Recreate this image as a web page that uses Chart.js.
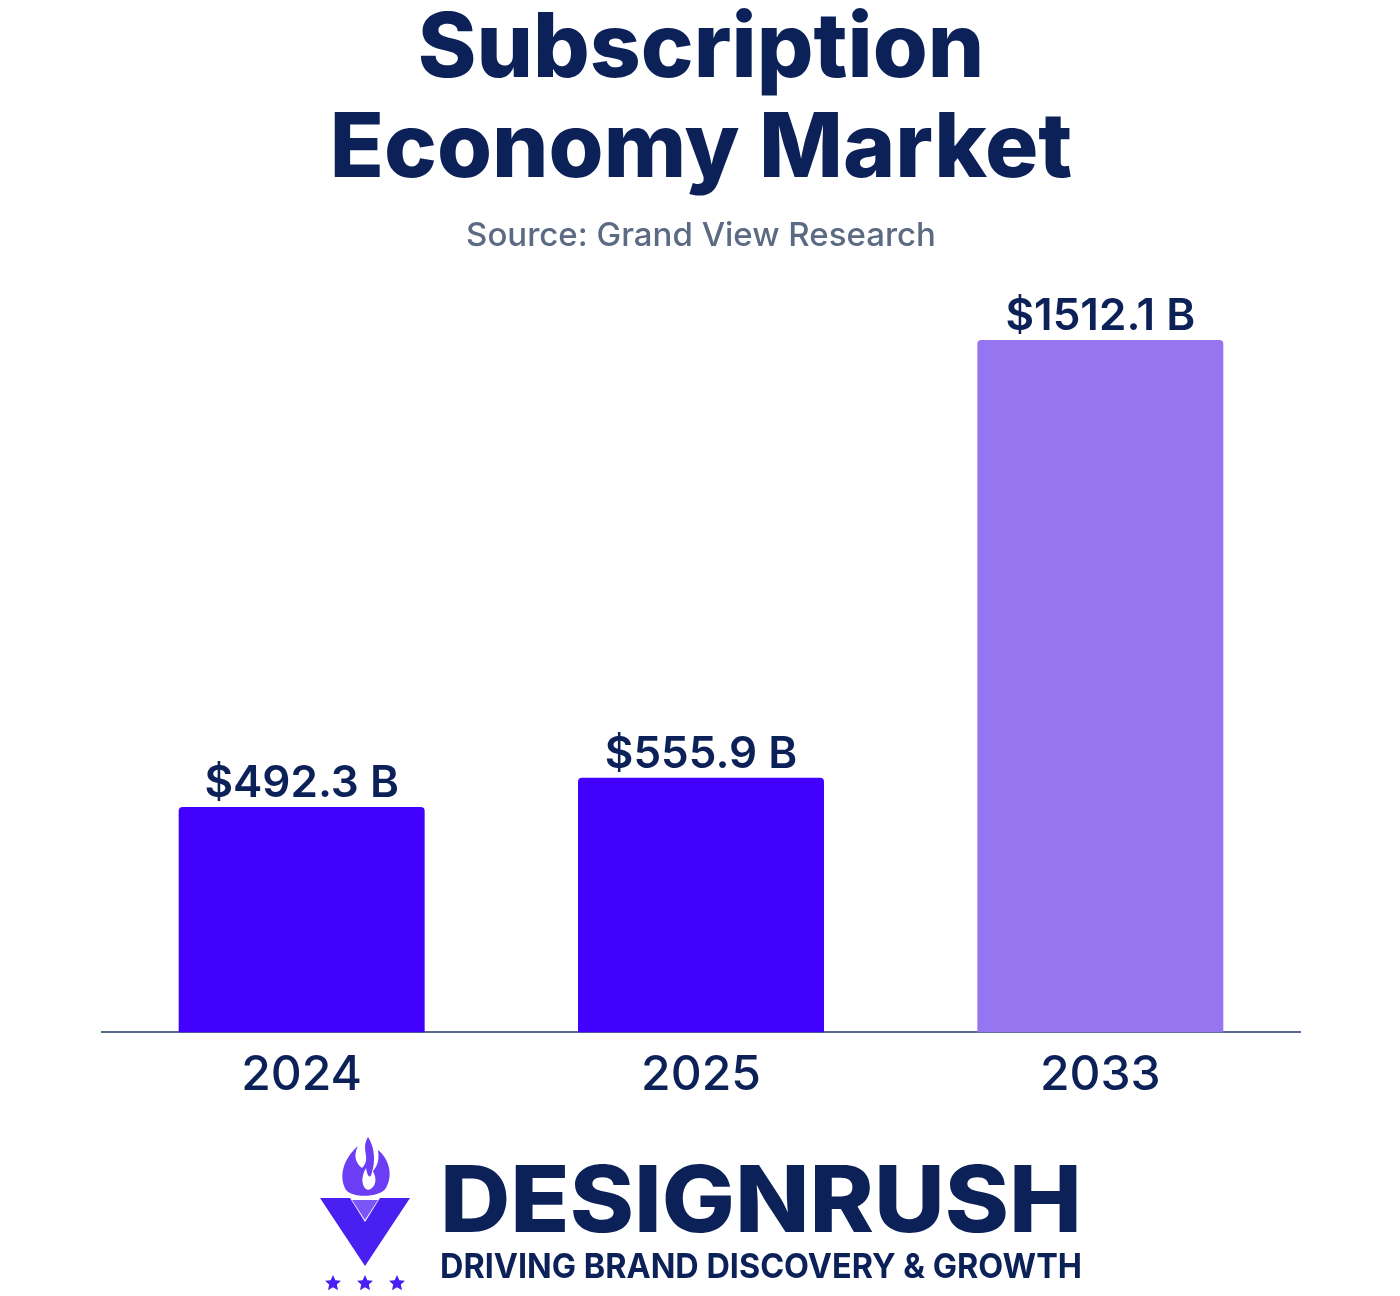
<!DOCTYPE html>
<html>
<head>
<meta charset="utf-8">
<script src="https://cdn.jsdelivr.net/npm/chart.js@4.4.1/dist/chart.umd.min.js"></script>
<style>
  html, body { margin: 0; padding: 0; background: #ffffff; }
  #wrap { position: relative; width: 1400px; height: 1296px; }
  #logo { position: absolute; left: 0; top: 0; }
</style>
</head>
<body>
<div id="wrap">
  <canvas id="marketChart" width="1400" height="1296"></canvas>
  <svg id="logo" width="1400" height="1296" viewBox="0 0 1400 1296">
    <!-- flame -->
    <path d="M368 1137 C360 1150 372 1158 362 1168 C352 1160 356 1150 358 1146 C344 1158 338 1176 346 1190 C352 1198 380 1198 386 1188 C394 1174 388 1158 378 1150 C380 1162 376 1168 372 1172 C376 1160 374 1146 368 1137 Z" fill="#6b3df5"/>
    <path d="M366 1168 C360 1178 362 1188 368 1190 C376 1188 378 1178 372 1170 C372 1178 368 1180 366 1168 Z" fill="#ffffff"/>
    <!-- V -->
    <path d="M320 1198 L350 1198 L365 1222 L380 1198 L410 1198 L365 1266 Z" fill="#4a1ff2"/>
    <path d="M352 1200 L378 1200 L365 1220 Z" fill="#7b55f5"/>
    <!-- stars -->
    <g fill="#4a1ff2">
      <path d="M333 1275 l2.4 5.2 5.6 0.6 -4.2 3.8 1.2 5.6 -5 -2.9 -5 2.9 1.2 -5.6 -4.2 -3.8 5.6 -0.6 Z"/>
      <path d="M365 1275 l2.4 5.2 5.6 0.6 -4.2 3.8 1.2 5.6 -5 -2.9 -5 2.9 1.2 -5.6 -4.2 -3.8 5.6 -0.6 Z"/>
      <path d="M397 1275 l2.4 5.2 5.6 0.6 -4.2 3.8 1.2 5.6 -5 -2.9 -5 2.9 1.2 -5.6 -4.2 -3.8 5.6 -0.6 Z"/>
    </g>
    <text x="440" y="1232" textLength="642" lengthAdjust="spacingAndGlyphs"
          font-family="Inter" font-weight="800" font-size="92" fill="#0c2158">DESIGNRUSH</text>
    <text x="440" y="1278" textLength="642" lengthAdjust="spacingAndGlyphs"
          font-family="Inter" font-weight="700" font-size="34" fill="#0c2158">DRIVING BRAND DISCOVERY &amp; GROWTH</text>
  </svg>
</div>
<script>
// chart values
const years = ['2024', '2025', '2033'];
const marketSize = [492.3, 555.9, 1512.1];
const valueLabels = ['$492.3 B', '$555.9 B', '$1512.1 B'];
const barColors = ['#4200ff', '#4200ff', '#9676f0'];

const navy = '#0c2158';

// write the value above each bar
const valueLabelPlugin = {
    id: 'valueLabels',
    afterDatasetsDraw(chart) {
        const ctx = chart.ctx;
        const bars = chart.getDatasetMeta(0).data;
        ctx.save();
        ctx.font = '600 44px Inter';
        ctx.fillStyle = navy;
        ctx.textAlign = 'center';
        ctx.textBaseline = 'alphabetic';
        bars.forEach((bar, i) => {
            ctx.fillText(valueLabels[i], bar.x, bar.y - 10);
        });
        ctx.restore();
    }
};

const ctx = document.getElementById('marketChart').getContext('2d');
const chart = new Chart(ctx, {
    type: 'bar',
    data: {
        labels: years,
        datasets: [{
            data: marketSize,
            backgroundColor: barColors,
            borderRadius: { topLeft: 4, topRight: 4 },
            borderSkipped: 'bottom',
            categoryPercentage: 1,
            barPercentage: 0.616
        }]
    },
    options: {
        responsive: false,
        animation: false,
        layout: {
            padding: { left: 102, right: 100, top: 0, bottom: 178 }
        },
        plugins: {
            legend: { display: false },
            tooltip: { enabled: false },
            title: {
                display: true,
                text: ['Subscription', 'Economy Market'],
                color: navy,
                font: { family: 'Inter', size: 89, weight: 800, lineHeight: 1.124 },
                padding: { top: 0, bottom: 0 }
            },
            subtitle: {
                display: true,
                text: 'Source: Grand View Research',
                color: '#5c6a84',
                font: { family: 'Inter', size: 33, weight: 500, lineHeight: 1.2 },
                padding: { top: 16, bottom: 44 }
            }
        },
        scales: {
            y: {
                display: false,
                min: 0,
                max: 1600
            },
            x: {
                grid: { display: false, drawTicks: false },
                border: { display: true, color: '#5a6b8f', width: 2 },
                ticks: {
                    color: navy,
                    font: { family: 'Inter', size: 48, weight: 500 },
                    padding: 14
                }
            }
        }
    },
    plugins: [valueLabelPlugin]
});
</script>
</body>
</html>
